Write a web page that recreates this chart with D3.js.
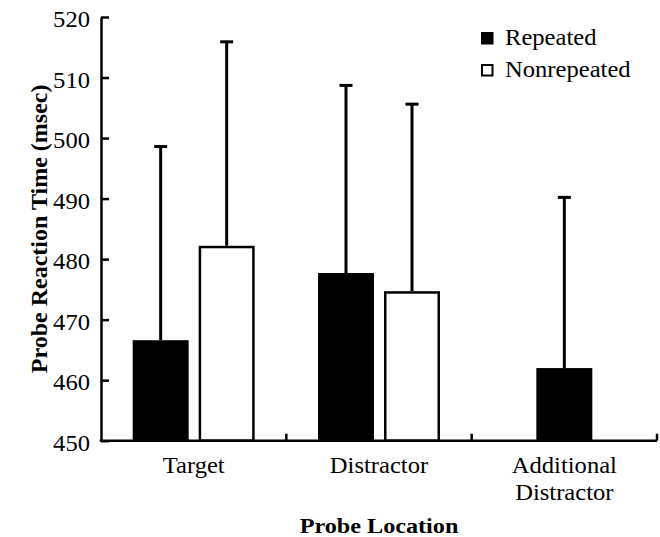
<!DOCTYPE html>
<html lang="en">
<head>
    <meta charset="UTF-8">
    <title>Probe Reaction Time by Probe Location</title>
    <script src="https://d3js.org/d3.v7.min.js"></script>
    <style>
        body { margin: 0; background: #fff; }
        svg, svg text { font-family: "Liberation Serif", "Times New Roman", Times, serif; fill: #000; }
        .title { font-weight: bold; }
    </style>
</head>
<body>
    <svg width="660" height="537"></svg>

    <script>
        // data
        const categories = ["Target", "Distractor", "Additional Distractor"];
        const categoryLines = [["Target"], ["Distractor"], ["Additional", "Distractor"]];
        const series = ["Repeated", "Nonrepeated"];
        const repeated = [466.6, 477.7, 462.0];
        const nonrepeated = [482.2, 474.7, null];
        const repeatedErr = [32.0, 31.0, 28.2];
        const nonrepeatedErr = [33.7, 30.9, null];
        const yTicks = [450, 460, 470, 480, 490, 500, 510, 520];

        const serif = '"Liberation Serif", "Times New Roman", Times, serif';
        const svg = d3.select("svg").attr("font-family", serif);
        const sx = 1.07; // the source type is a bit wider than Liberation Serif

        const x = d3.scaleBand().domain(categories).range([101, 657]);
        const x1 = d3.scaleBand().domain(series).range([0, x.bandwidth()])
            .paddingInner(0.152).paddingOuter(0.48);
        const y = d3.scaleLinear().domain([450, 520]).range([440.7, 17]);

        const bars = [];
        categories.forEach((c, i) => {
            const vals = [repeated[i], nonrepeated[i]];
            const errs = [repeatedErr[i], nonrepeatedErr[i]];
            const present = series.filter((s, j) => vals[j] != null);
            series.forEach((s, j) => {
                if (vals[j] == null) return;
                let x0 = x(c) + x1(s);
                if (present.length === 1) x0 = x(c) + (x.bandwidth() - x1.bandwidth()) / 2;
                bars.push({ cat: c, series: s, value: vals[j], err: errs[j], x0: x0 });
            });
        });

        // error bars (upper only), drawn first so bars sit on top
        const eb = svg.append("g");
        bars.forEach(d => {
            const cx = d.x0 + x1.bandwidth() / 2;
            eb.append("line")
                .attr("x1", cx).attr("x2", cx)
                .attr("y1", y(d.value)).attr("y2", y(d.value + d.err))
                .attr("stroke", "#000").attr("stroke-width", 3);
            eb.append("line")
                .attr("x1", cx - 6.5).attr("x2", cx + 6.5)
                .attr("y1", y(d.value + d.err)).attr("y2", y(d.value + d.err))
                .attr("stroke", "#000").attr("stroke-width", 3);
        });

        svg.append("g").selectAll("rect")
            .data(bars)
            .enter().append("rect")
            .attr("x", d => d.series === "Repeated" ? d.x0 : d.x0 + 1.25)
            .attr("y", d => d.series === "Repeated" ? y(d.value) : y(d.value) + 1.25)
            .attr("width", d => d.series === "Repeated" ? x1.bandwidth() : x1.bandwidth() - 2.5)
            .attr("height", d => y(450) - y(d.value) - (d.series === "Repeated" ? 0 : 1.25))
            .attr("fill", d => d.series === "Repeated" ? "#000" : "#fff")
            .attr("stroke", d => d.series === "Repeated" ? "none" : "#000")
            .attr("stroke-width", 2.5);

        // y axis, ticks pointing inward
        const yAxis = svg.append("g")
            .attr("transform", "translate(101,0)")
            .call(d3.axisLeft(y).tickValues(yTicks).tickSizeInner(-8).tickSizeOuter(0).tickPadding(11))
            .attr("font-family", serif);
        yAxis.select(".domain").attr("stroke", "#000").attr("stroke-width", 2.5);
        yAxis.selectAll(".tick line").attr("stroke", "#000").attr("stroke-width", 2.5);
        yAxis.selectAll(".tick text")
            .attr("x", null).attr("dy", null)
            .attr("font-size", 23)
            .attr("font-family", serif)
            .attr("transform", `translate(-11,9.5) scale(${sx},1)`);

        // x axis with ticks between categories
        const xAxis = svg.append("g");
        xAxis.append("line")
            .attr("x1", x.range()[0] - 1.25).attr("x2", x.range()[1])
            .attr("y1", y(450)).attr("y2", y(450))
            .attr("stroke", "#000").attr("stroke-width", 2.5);
        xAxis.selectAll(".xtick")
            .data(categories)
            .enter().append("line")
            .attr("x1", d => x(d) + x.bandwidth()).attr("x2", d => x(d) + x.bandwidth())
            .attr("y1", y(450)).attr("y2", y(450) - 7)
            .attr("stroke", "#000").attr("stroke-width", 2.5);

        categories.forEach((c, i) => {
            const t = svg.append("text")
                .attr("text-anchor", "middle")
                .attr("font-family", serif)
                .attr("font-size", 23)
                .attr("transform", `translate(${x(c) + x.bandwidth() / 2},473) scale(${sx},1)`);
            categoryLines[i].forEach((line, k) => {
                t.append("tspan").attr("x", 0).attr("dy", k === 0 ? 0 : 27).text(line);
            });
        });

        // axis titles
        svg.append("text")
            .attr("class", "title")
            .attr("text-anchor", "middle")
            .attr("font-family", serif)
            .attr("font-size", 22)
            .attr("transform", `translate(${(x.range()[0] + x.range()[1]) / 2},533) scale(1.1,1)`)
            .text("Probe Location");

        svg.append("text")
            .attr("class", "title")
            .attr("text-anchor", "middle")
            .attr("font-family", serif)
            .attr("font-size", 24)
            .attr("transform", `translate(47,${(y(450) + y(520)) / 2}) rotate(-90)`)
            .text("Probe Reaction Time (msec)");

        // legend
        const legend = svg.append("g");
        series.forEach((s, i) => {
            const ly = 32 + i * 32;
            legend.append("rect")
                .attr("x", s === "Repeated" ? 481 : 482)
                .attr("y", s === "Repeated" ? ly : ly + 1)
                .attr("width", s === "Repeated" ? 12.5 : 10.5)
                .attr("height", s === "Repeated" ? 12.5 : 10.5)
                .attr("fill", s === "Repeated" ? "#000" : "#fff")
                .attr("stroke", s === "Repeated" ? "none" : "#000")
                .attr("stroke-width", 2);
            legend.append("text")
                .attr("font-family", serif)
                .attr("font-size", 23)
                .attr("transform", `translate(505,${ly + 13}) scale(${sx},1)`)
                .text(s);
        });
    </script>
</body>
</html>
